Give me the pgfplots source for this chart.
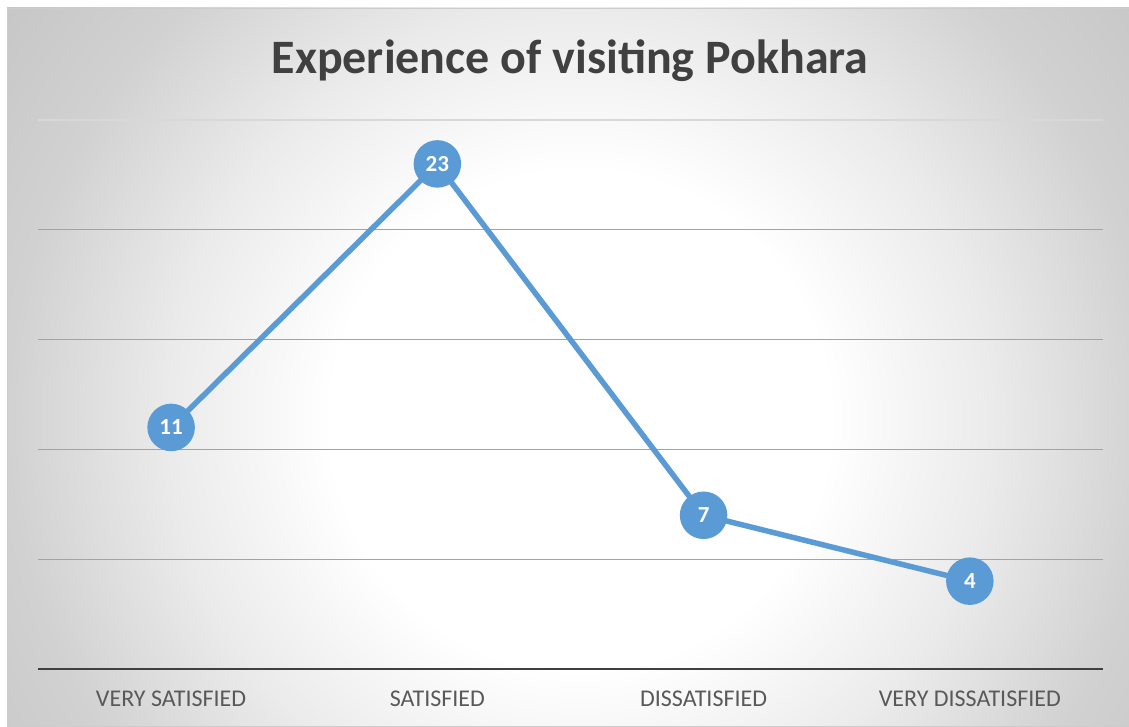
\documentclass[border=0pt]{standalone}
\usepackage{pgfplots}
\pgfplotsset{compat=1.18}
\usepackage{fontspec}
\setmainfont{Carlito}
\definecolor{linecol}{HTML}{5B9BD5}
\definecolor{titlecol}{HTML}{404040}
\definecolor{labcol}{HTML}{595959}
\definecolor{gridcol}{HTML}{A3A3A3}
\definecolor{topgrid}{HTML}{D8D8D8}
\pgfdeclareradialshading{bgshade}{\pgfpoint{0bp}{0bp}}{%
  color(0bp)=(white); color(7.8bp)=(white); color(12.9bp)=(black!8); color(17.9bp)=(black!18); color(22bp)=(black!22); color(25bp)=(black!23); color(50bp)=(black!23)}
\begin{document}
\begin{tikzpicture}[x=1pt,y=1pt]
\path[use as bounding box] (0,0) rectangle (1129,726);
\fill[white] (0,0) rectangle (1129,726);
\begin{scope}
\clip (7,0) rectangle (1129,718);
\shade[shading=bgshade] (-220,-494) rectangle (1380,1106);
\end{scope}
\draw[black!20, line width=0.8pt] (7,0) rectangle (1129,718);
\node[font=\fontsize{48}{56}\selectfont\bfseries, text=titlecol] at (570,665) {Experience of visiting Pokhara};
\begin{axis}[
  at={(38pt,57pt)}, anchor=south west,
  scale only axis, width=1065pt, height=549pt,
  xmin=-0.5, xmax=3.5, ymin=0, ymax=25,
  axis line style={draw=none},
  xtick=data,
  xticklabels={VERY SATISFIED, SATISFIED, DISSATISFIED, VERY DISSATISFIED},
  xticklabel style={anchor=base, yshift=-37pt, font=\fontsize{24}{28}\selectfont, text=labcol},
  ytick={5,10,15,20}, yticklabels={},
  major tick length=0pt,
  ymajorgrids, grid style={color=gridcol, line width=1.4pt},
  extra y ticks={0}, extra y tick labels={},
  extra y tick style={grid style={color=titlecol, line width=2.8pt}},
  clip=false,
  /pgf/number format/assume math mode=true,
]
\draw[topgrid, line width=1.4pt] (axis cs:-0.5,25) -- (axis cs:3.5,25);
\addplot[color=linecol, line width=5.5pt, mark=*, mark size=21pt,
  mark options={fill=linecol, draw=none},
  nodes near coords,
  every node near coord/.append style={anchor=center, text=white, font=\fontsize{23}{26}\selectfont\bfseries}]
  coordinates {(0,11) (1,23) (2,7) (3,4)};
\end{axis}
\end{tikzpicture}
\end{document}
